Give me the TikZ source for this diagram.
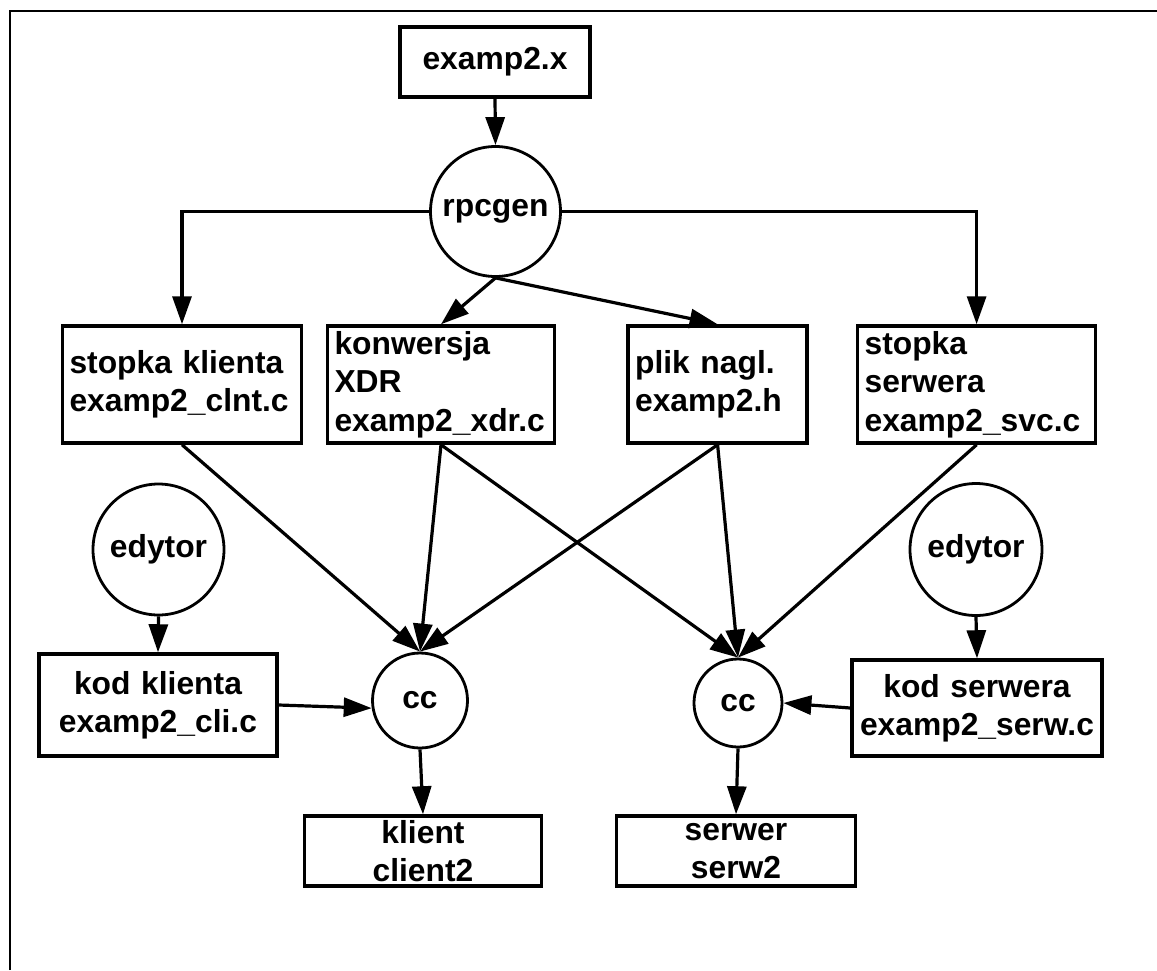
\documentclass[tikz,border=0pt]{standalone}
\usepackage{fontspec}
\setmainfont{Liberation Sans}
\usetikzlibrary{arrows.meta}
\begin{document}
\begin{tikzpicture}[x=1pt,y=-1pt,
  every node/.style={font=\fontsize{31.8}{38.4}\selectfont\bfseries},
  box/.style={draw, line width=3.5pt, inner xsep=7pt, inner ysep=0pt, align=left},
  cbox/.style={draw, line width=3.5pt, inner xsep=7pt, inner ysep=0pt, align=center},
  circ/.style={draw, circle, line width=2.8pt, inner sep=0pt},
  conn/.style={line width=3.2pt, -{Triangle[length=28pt,width=19pt]}}]
\useasboundingbox (0,0) rectangle (1157,970);
\draw[line width=2.2pt] (10,970) -- (10,11) -- (1157,11);

\node[cbox, text width=176pt, minimum height=70pt] (ex) at (495,62) {examp2.x};
\node[circ, minimum size=130pt] (rpc) at (495.5,211.5) {rpcgen};

\node[box, text width=225pt, minimum height=117pt] (sk) at (182,384.5) {stopka klienta\\examp2\_clnt.c};
\node[box, text width=213pt, minimum height=117pt] (kw) at (441,384.5) {konwersja\\XDR\\examp2\_xdr.c};
\node[box, text width=165pt, minimum height=117pt] (pn) at (717.6,384.5) {plik nagl.\\examp2.h};
\node[box, text width=224pt, minimum height=117pt] (ss) at (976.6,384.5) {stopka\\serwera\\examp2\_svc.c};

\node[circ, minimum size=131pt] (edl) at (158.5,549.5) {edytor};
\node[circ, minimum size=132pt] (edr) at (976,549.5) {edytor};

\node[cbox, text width=224pt, minimum height=102pt] (kk) at (158,705) {kod klienta\\examp2\_cli.c};
\node[circ, minimum size=95pt] (ccl) at (420,700.5) {cc};
\node[circ, minimum size=88pt] (ccr) at (738,703) {cc};
\node[cbox, text width=236pt, minimum height=96pt] (ks) at (977,708) {kod serwera\\examp2\_serw.c};

\node[cbox, text width=223pt, minimum height=70pt] (kl) at (423,851) {klient\\client2};
\node[cbox, text width=225pt, minimum height=70pt] (sv) at (736,851) {serwer\\serw2};

\draw[conn] (ex.south) -- (rpc.north);
\draw[conn] (rpc.west) -| (sk.north);
\draw[conn] (rpc.east) -| (ss.north);
\draw[conn] (rpc.south) -- (kw.north);
\draw[conn] (rpc.south) -- (pn.north);

\draw[conn] (sk.south) -- (ccl.north);
\draw[conn] (kw.south) -- (ccl.north);
\draw[conn] (pn.south) -- (ccl.north);
\draw[conn] (kw.south) -- (ccr.north);
\draw[conn] (pn.south) -- (ccr.north);
\draw[conn] (ss.south) -- (ccr.north);

\draw[conn] (edl.south) -- (kk.north);
\draw[conn] (edr.south) -- (ks.north);
\draw[conn] (kk.east) -- (ccl.189);
\draw[conn] (ks.west) -- (ccr.east);
\draw[conn] (ccl.south) -- (kl.north);
\draw[conn] (ccr.south) -- (sv.north);
\end{tikzpicture}
\end{document}
